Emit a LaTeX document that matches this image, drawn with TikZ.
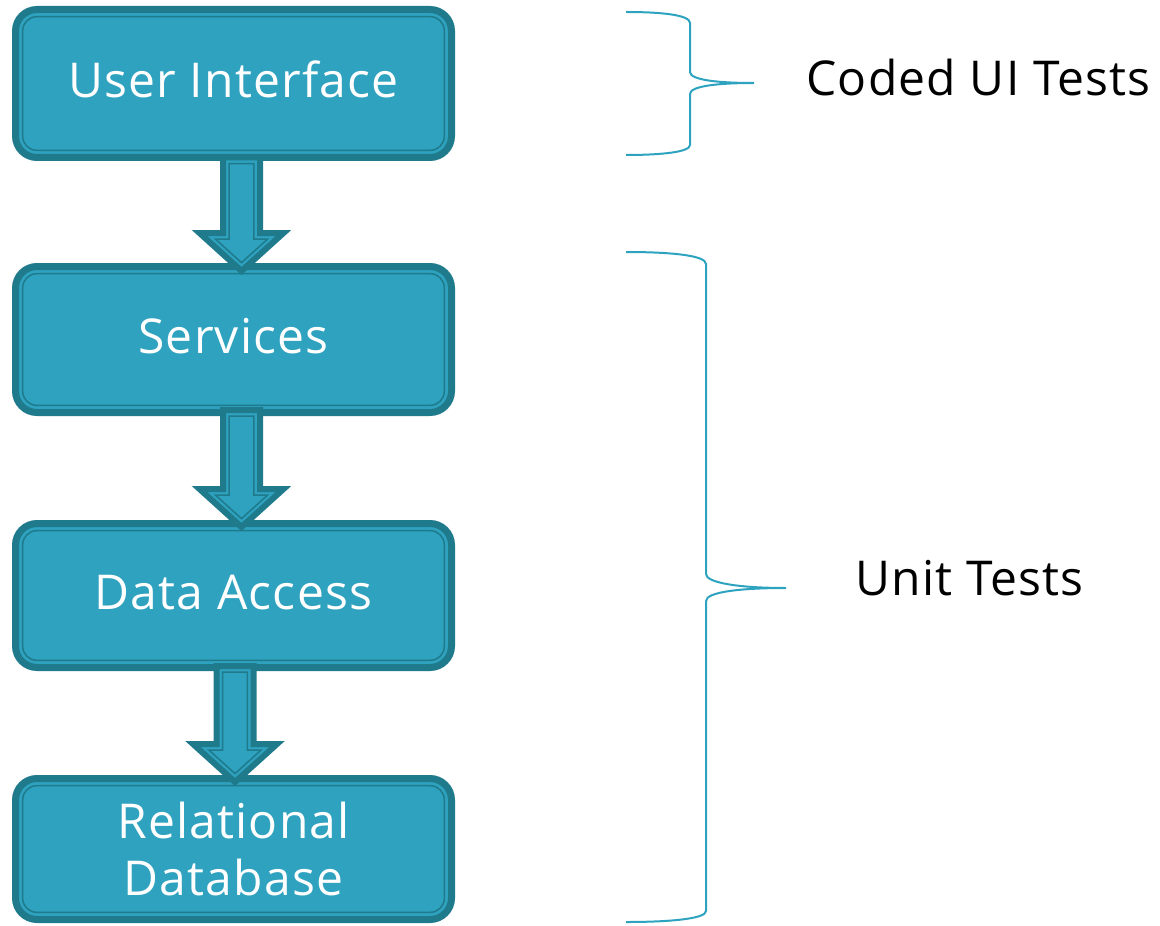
\documentclass[tikz,border=0pt]{standalone}
\usepackage{fontspec}
\setmainfont{Open Sans}[LetterSpace=2.5]
\usetikzlibrary{calc}
\definecolor{tealfill}{RGB}{46,162,191}
\definecolor{tealdark}{RGB}{31,122,140}
\definecolor{bracecol}{RGB}{46,163,192}
\tikzset{
  layerbox/.style={draw=tealdark, fill=tealfill, line width=3.5pt, rounded corners=10.75pt,
    minimum width=218pt, outer sep=0pt, inner sep=0pt, text=white,
    font=\fontsize{24}{28.5}\selectfont, align=center},
  onerow/.style={text height=20pt, text depth=6pt},
  boxinner/.style={draw=tealdark, line width=0.75pt, rounded corners=7pt},
  arrowouter/.style={draw=tealdark, fill=tealfill, line width=3pt, line join=miter},
  arrowinner/.style={draw=tealdark, line width=0.75pt, line join=miter},
  bracestyle/.style={draw=bracecol, line width=1pt},
  sidelabel/.style={font=\fontsize{24}{28.5}\selectfont, text=black, inner sep=0pt}
}
\newcommand\innerline[1]{%
  \draw[boxinner] ([shift={(3.6pt,-3.6pt)}]#1.north west) rectangle ([shift={(-3.6pt,3.6pt)}]#1.south east);}
\newcommand\blockarrow[2]{%
  \draw[arrowouter] let \p1=(#1), \p2=(#2) in
    (\x1-9.25pt,\y1) -- (\x1-9.25pt,\y2+19pt) -- (\x1-21pt,\y2+19pt) -- (\x1,\y2)
    -- (\x1+21pt,\y2+19pt) -- (\x1+9.25pt,\y2+19pt) -- (\x1+9.25pt,\y1) -- cycle;
  \draw[arrowinner] let \p1=(#1), \p2=(#2) in
    (\x1-6.15pt,\y1-3.1pt) -- (\x1-6.15pt,\y2+15.9pt) -- (\x1-12.96pt,\y2+15.9pt) -- (\x1,\y2+4.18pt)
    -- (\x1+12.96pt,\y2+15.9pt) -- (\x1+6.15pt,\y2+15.9pt) -- (\x1+6.15pt,\y1-3.1pt) -- cycle;}
\begin{document}
\begin{tikzpicture}[x=0.5pt,y=-0.5pt]
\useasboundingbox (0,0) rectangle (1160,925);
% layer boxes
\node[layerbox, onerow, minimum height=74pt] (ui) at (233.5,83.5) {User Interface};
\node[layerbox, onerow, minimum height=73pt] (sv) at (233.5,339.5) {Services};
\node[layerbox, onerow, minimum height=72pt] (da) at (233.5,595.5) {Data Access};
\node[layerbox, minimum height=70.5pt] (db) at (233.5,849) {Relational\\Database};
\innerline{ui}
\innerline{sv}
\innerline{da}
\innerline{db}
% block arrows
\coordinate (a1s) at ($(ui.south)+(4pt,0pt)$);
\coordinate (a1e) at ($(sv.north)+(4pt,-2.25pt)$);
\coordinate (a2s) at ($(sv.south)+(4pt,1.25pt)$);
\coordinate (a2e) at ($(da.north)+(4pt,-1.75pt)$);
\coordinate (a3s) at ($(da.south)+(0.75pt,0.75pt)$);
\coordinate (a3e) at ($(db.north)+(0.75pt,-1.75pt)$);
\blockarrow{a1s}{a1e}
\blockarrow{a2s}{a2e}
\blockarrow{a3s}{a3e}
% braces
\draw[bracestyle] (626,12) .. controls (662,12) and (690,15) .. (690,23)
  -- (690,72) .. controls (690,80) and (718,83) .. (754,83)
  .. controls (718,83) and (690,86) .. (690,94)
  -- (690,145) .. controls (690,152) and (662,155) .. (626,155);
\draw[bracestyle] (626,252) .. controls (668,252) and (706,255) .. (706,264)
  -- (706,574) .. controls (706,583) and (740,588) .. (786,588)
  .. controls (740,588) and (706,592) .. (706,601)
  -- (706,911) .. controls (706,919) and (668,922) .. (626,922);
% labels
\node[sidelabel, anchor=base west] (cui) at (806,96) {Coded UI Tests};
\node[sidelabel, anchor=base] (ut) at (969.5,595) {Unit Tests};
\end{tikzpicture}
\end{document}
